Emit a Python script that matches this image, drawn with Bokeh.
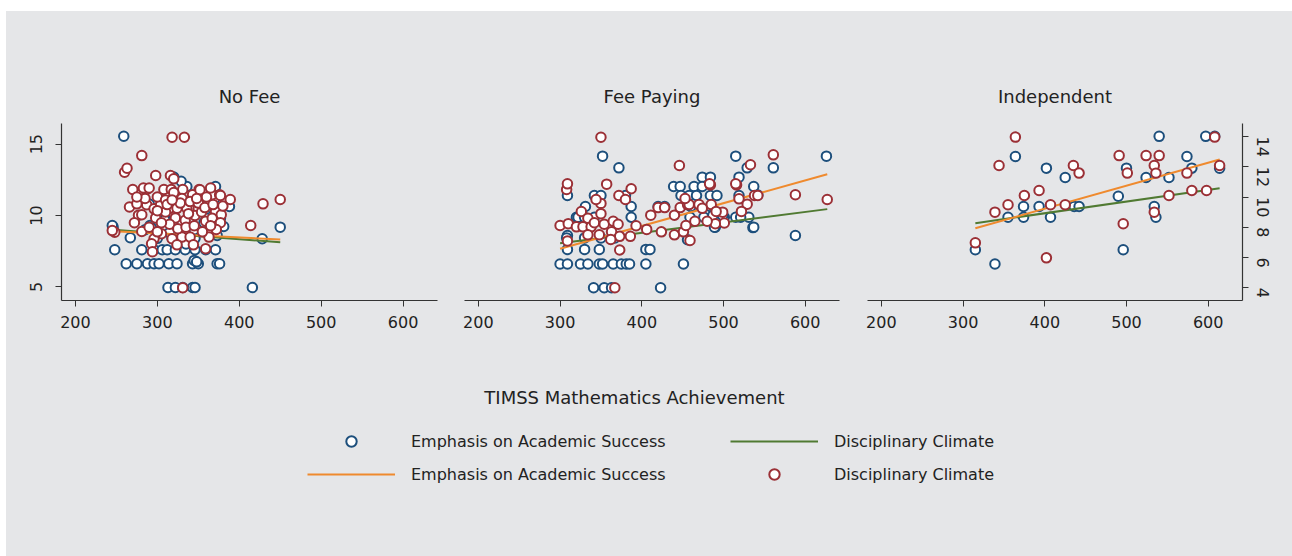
import math
from bokeh.plotting import figure
from bokeh.models import Range1d, LinearAxis, FixedTicker, Legend, LegendItem, Label, Spacer
from bokeh.layouts import row, column
from bokeh.embed import file_html
from bokeh.resources import INLINE

BG = "#e5e6e8"
BLUE = "#1d4f7c"
RED = "#9b3036"
ORANGE = "#ef8a2e"
GREEN = "#507a32"
TXT = "#222222"
FONT = "DejaVu Sans"

panel_titles = ["No Fee", "Fee Paying", "Independent"]
x_ticks = [200, 300, 400, 500, 600]
acad_ticks = [5, 10, 15]
disc_ticks = [4, 6, 8, 10, 12, 14]

# ---- No Fee ----
nf_acad_x = [259, 246, 248, 267, 245,
             262, 275, 288, 296, 302, 314, 324, 343, 350, 373, 376, 345, 348,
             313, 322, 331, 343, 346, 416,
             281, 296, 306, 312, 322, 334, 346, 359, 371,
             428, 450, 388, 371, 336, 320, 381, 291,
             293, 285, 300, 318, 346, 357, 306, 367, 377, 373, 280, 290, 300, 310, 320,
             330, 340, 350, 360, 370, 325, 345, 315, 335, 329, 355, 362, 309]
nf_acad_y = [15.56, 9.18, 7.6, 8.44, 9.3,
             6.62, 6.62, 6.62, 6.62, 6.62, 6.62, 6.62, 6.62, 6.62, 6.62, 6.62, 6.85, 6.75,
             4.95, 4.95, 4.95, 4.95, 4.95, 4.95,
             7.6, 7.6, 7.6, 7.6, 7.6, 7.6, 7.6, 7.6, 7.6,
             8.37, 9.18, 10.63, 12.03, 12.03, 12.7, 9.23, 9.3,
             9.1, 9.0, 8.4, 8.4, 8.4, 9.5, 11.1, 10.5, 9.8, 8.6, 11.4, 10.8, 10.2, 11.6, 10.0,
             9.4, 10.6, 11.0, 9.8, 11.2, 11.2, 9.0, 8.8, 8.0, 12.4, 11.6, 8.9, 9.7]
nf_disc_x = [318, 333, 281, 260, 263, 298, 316, 320,
             287, 308, 317, 331, 351, 276, 343, 367, 376, 389,
             266, 275, 287, 296, 304, 314, 324, 336, 350, 363, 371, 378,
             277, 281, 298, 310, 322, 334, 346, 354, 359, 367, 377,
             248, 245, 281, 305, 296, 318, 330, 340, 363, 372,
             293, 324, 344, 294, 359, 331, 414, 429, 450, 377, 352,
             300, 310, 320, 330, 340, 350, 360, 315, 325, 335, 345, 355, 365, 305,
             290, 285, 300, 312, 328, 338, 348, 358, 368, 318, 300, 283, 270, 275,
             290, 365, 380, 272]
nf_disc_y = [13.95, 13.95, 12.74, 11.64, 11.9, 11.42, 11.42, 11.2,
             10.5, 10.5, 10.5, 10.5, 10.5, 10.15, 10.15, 10.15, 10.15, 9.84,
             9.34, 9.55, 9.49, 9.22, 9.49, 9.22, 9.25, 9.25, 9.22, 9.49, 9.05, 8.83,
             8.8, 8.83, 8.62, 9.01, 8.62, 8.46, 8.78, 9.01, 8.4, 8.6, 8.3,
             7.67, 7.78, 7.72, 7.57, 7.24, 7.24, 7.35, 7.35, 7.35, 7.85,
             6.91, 6.84, 6.84, 6.38, 6.58, 4.0, 8.12, 9.55, 9.84, 10.1, 10.48,
             10.0, 9.8, 10.3, 9.9, 9.7, 9.6, 10.0, 8.2, 7.9, 8.0, 8.1, 7.7, 8.1, 8.3,
             8.0, 9.9, 7.7, 9.5, 9.6, 8.9, 9.9, 9.3, 9.5, 9.8, 9.1, 10.6, 10.5, 10.0,
             10.6, 10.6, 9.4, 8.3]

# ---- Fee Paying ----
fp_acad_x = [300, 309, 325, 334, 348, 352, 365, 375, 381, 385, 405, 451,
             341, 354, 363, 423,
             309, 330, 348, 405, 410,
             309, 588, 456, 536,
             352, 515, 626, 372, 561, 529, 474, 484, 519,
             439, 447, 464, 474, 537,
             309, 342, 350, 380, 448, 458, 467, 484, 492, 519, 542,
             331, 387, 420, 428, 460, 484,
             320, 342, 387, 459, 476, 501, 515, 531, 490,
             308, 330, 350, 367, 487, 499, 521, 489, 537, 322, 330]
fp_acad_y = [6.6, 6.6, 6.6, 6.6, 6.6, 6.6, 6.6, 6.6, 6.6, 6.6, 6.6, 6.6,
             4.93, 4.93, 4.93, 4.93,
             7.62, 7.62, 7.62, 7.62, 7.62,
             8.6, 8.6, 8.3, 9.15,
             14.16, 14.16, 14.16, 13.34, 13.34, 13.34, 12.69, 12.69, 12.69,
             12.03, 12.03, 12.03, 12.03, 12.03,
             11.4, 11.4, 11.4, 11.4, 11.4, 11.4, 11.4, 11.4, 11.4, 11.4, 11.44,
             10.63, 10.63, 10.63, 10.63, 10.63, 10.63,
             9.88, 9.88, 9.88, 9.88, 9.88, 9.88, 9.88, 9.88, 9.18,
             8.43, 8.43, 8.43, 8.43, 10.0, 10.0, 9.88, 9.18, 9.18, 9.88, 9.88]
fp_disc_x = [350, 446, 308, 357, 387, 372, 380, 350, 344, 326, 350, 334, 300, 310,
             320, 328, 338, 342, 354, 365, 371, 363, 348, 334, 393, 373, 386, 362,
             309, 373, 367, 406, 411, 420, 428, 440, 447, 456, 440, 451, 424,
             533, 561, 484, 516, 588, 627, 538, 542, 519, 529, 522, 499, 501, 490,
             480, 465, 454, 459, 470, 458, 485, 474, 491, 453, 309, 483, 515]
fp_disc_y = [13.95, 12.08, 10.5, 10.85, 10.55, 10.1, 9.84, 9.58, 9.84, 9.04, 8.9, 8.6, 8.12, 8.24,
             8.03, 8.03, 8.03, 8.3, 8.2, 8.4, 8.2, 7.7, 7.5, 7.5, 8.1, 7.4, 7.4, 7.2,
             7.1, 6.5, 4.0, 7.86, 8.8, 9.3, 9.3, 8.8, 9.3, 9.5, 7.5, 7.7, 7.7,
             12.13, 12.79, 10.8, 10.8, 10.15, 9.84, 10.1, 10.1, 9.88, 9.53, 9.05, 9.0, 8.28, 8.23,
             8.4, 8.4, 8.12, 7.13, 9.5, 9.5, 9.5, 9.25, 9.05, 9.9, 10.87, 10.87, 10.87]

# ---- Independent ----
in_acad_x = [315, 339, 364, 355, 374, 374, 393, 402, 407, 425, 436, 442,
             490, 496, 500, 524, 534, 536, 540, 552, 574, 580, 597, 608, 614]
in_acad_y = [7.6, 6.6, 14.14, 9.88, 10.63, 9.88, 10.63, 13.32, 9.88, 12.66, 10.63, 10.63,
             11.35, 7.6, 13.32, 12.66, 10.63, 9.88, 15.55, 12.66, 14.14, 13.32, 15.55, 15.55, 13.32]
in_disc_x = [315, 339, 344, 355, 364, 375, 393, 402, 407, 425, 435, 442,
             491, 496, 501, 524, 534, 534, 536, 540, 552, 574, 580, 598, 608, 614]
in_disc_y = [6.97, 9.0, 12.08, 9.49, 13.96, 10.1, 10.43, 5.98, 9.49, 9.49, 12.08, 11.58,
             12.74, 8.23, 11.58, 12.74, 12.08, 9.0, 11.58, 12.74, 10.1, 11.58, 10.43, 10.43, 13.96, 12.08]

# fitted lines (end points)
nf_fit_x, nf_fit_acad, nf_fit_disc = [247, 450], [8.90, 8.32], [7.83, 7.01]
fp_fit_x, fp_fit_acad, fp_fit_disc = [300, 627], [7.67, 12.89], [6.95, 9.20]
in_fit_x, in_fit_acad, in_fit_disc = [315, 614], [9.11, 13.92], [8.27, 10.58]

data = [
    (nf_acad_x, nf_acad_y, nf_disc_x, nf_disc_y, nf_fit_x, nf_fit_acad, nf_fit_disc),
    (fp_acad_x, fp_acad_y, fp_disc_x, fp_disc_y, fp_fit_x, fp_fit_acad, fp_fit_disc),
    (in_acad_x, in_acad_y, in_disc_x, in_disc_y, in_fit_x, in_fit_acad, in_fit_disc),
]

widths = [444, 402, 440]
borders = [(55, 13), (14, 13), (15, 50)]


def style_axis(ax, standoff):
    ax.axis_line_color = "#333333"
    ax.axis_line_width = 1.2
    ax.major_tick_line_color = "#333333"
    ax.major_tick_out = 6
    ax.major_tick_in = 0
    ax.minor_tick_line_color = None
    ax.major_label_text_font = FONT
    ax.major_label_text_font_size = "16px"
    ax.major_label_text_color = TXT
    ax.major_label_standoff = standoff


figs = []
for i in range(3):
    ax_, ay_, dx_, dy_, fx_, fa_, fd_ = data[i]
    p = figure(width=widths[i], height=337,
               x_range=Range1d(183, 642), y_range=Range1d(4.04, 16.45),
               output_backend="svg", toolbar_location=None,
               y_axis_location="left" if i == 0 else None,
               min_border_left=borders[i][0], min_border_right=borders[i][1],
               min_border_top=112, min_border_bottom=48)
    p.extra_y_ranges = {"disc": Range1d(3.16, 14.86)}
    p.background_fill_color = BG
    p.border_fill_color = BG
    p.outline_line_color = None
    p.xgrid.visible = False
    p.ygrid.visible = False
    p.title.text = panel_titles[i]
    p.title.align = "center"
    p.title.text_font = FONT
    p.title.text_font_size = "18px"
    p.title.text_font_style = "normal"
    p.title.text_color = TXT
    p.title.standoff = 34

    p.xaxis.ticker = FixedTicker(ticks=x_ticks)
    style_axis(p.xaxis[0], 9)
    if i == 0:
        p.yaxis.ticker = FixedTicker(ticks=acad_ticks)
        style_axis(p.yaxis[0], 13)
        p.yaxis.major_label_orientation = "vertical"
    if i == 2:
        rax = LinearAxis(y_range_name="disc", ticker=FixedTicker(ticks=disc_ticks))
        style_axis(rax, 14)
        rax.major_label_orientation = -math.pi / 2
        p.add_layout(rax, "right")

    p.scatter(ax_, ay_, marker="circle", size=9.5, fill_color="white",
              line_color=BLUE, line_width=2)
    p.line(fx_, fd_, line_color=GREEN, line_width=2, y_range_name="disc")
    p.line(fx_, fa_, line_color=ORANGE, line_width=2)
    p.scatter(dx_, dy_, marker="circle", size=9.5, fill_color="white",
              line_color=RED, line_width=2, y_range_name="disc")
    figs.append(p)

# ---- bottom: axis title + legend ----
pl = figure(width=1286, height=208, x_range=Range1d(0, 1286), y_range=Range1d(0, 208),
            output_backend="svg", toolbar_location=None,
            x_axis_location=None, y_axis_location=None,
            min_border_left=0, min_border_right=0, min_border_top=0, min_border_bottom=0)
pl.background_fill_color = BG
pl.border_fill_color = BG
pl.outline_line_color = None
pl.xgrid.visible = False
pl.ygrid.visible = False

pl.add_layout(Label(x=628, y=159, text="TIMSS Mathematics Achievement",
                    text_align="center", text_baseline="middle",
                    text_font=FONT, text_font_size="18px", text_color=TXT))

nan = float("nan")
rb = pl.scatter(x=[nan], y=[nan], marker="circle", size=9, fill_color="white", line_color=BLUE, line_width=2)
ro = pl.line(x=[nan, nan], y=[nan, nan], line_color=ORANGE, line_width=2)
rg = pl.line(x=[nan, nan], y=[nan, nan], line_color=GREEN, line_width=2)
rr = pl.scatter(x=[nan], y=[nan], marker="circle", size=9, fill_color="white", line_color=RED, line_width=2)


def make_legend(items, loc):
    return Legend(items=items, location=loc, orientation="vertical",
                  glyph_width=88, glyph_height=26, label_height=26,
                  label_standoff=16, spacing=7, padding=0, margin=0,
                  border_line_color=None, background_fill_alpha=0,
                  label_text_font=FONT, label_text_font_size="16px",
                  label_text_color=TXT)


legA = make_legend([LegendItem(label="Emphasis on Academic Success", renderers=[rb]),
                    LegendItem(label="Emphasis on Academic Success", renderers=[ro])], (301, 69))
legB = make_legend([LegendItem(label="Disciplinary Climate", renderers=[rg]),
                    LegendItem(label="Disciplinary Climate", renderers=[rr])], (724, 69))
pl.add_layout(legA)
pl.add_layout(legB)

top = row(*figs, spacing=0, styles={"background-color": BG})
body = column(top, pl, spacing=0, styles={"background-color": BG})
page = column(Spacer(height=11), row(Spacer(width=6), body, spacing=0), spacing=0)
open("out.html", "w").write(file_html(page, INLINE))
